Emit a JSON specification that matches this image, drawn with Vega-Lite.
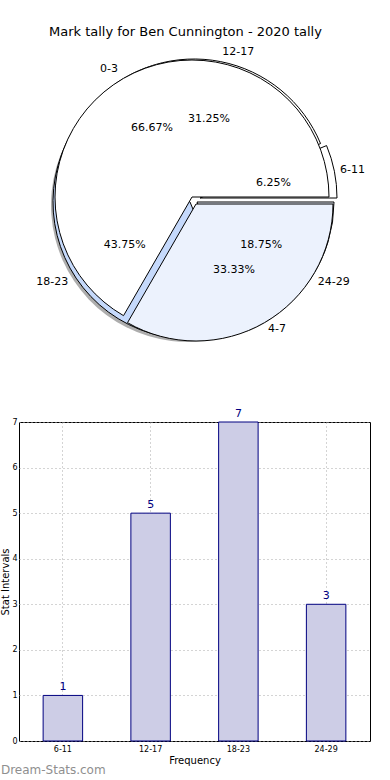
{
  "$schema": "https://vega.github.io/schema/vega-lite/v6.json",
  "background": "white",
  "padding": {"left": 0, "right": 0, "top": 25, "bottom": 0},
  "config": {"font": "DejaVu Sans", "view": {"stroke": null}},
  "title": {"text": "Mark tally for Ben Cunnington - 2020 tally", "fontSize": 13, "fontWeight": "normal", "color": "black", "anchor": "middle", "offset": 7},
  "spacing": 56,
  "vconcat": [
    {
      "width": 348,
      "height": 304,
      "data": {"values": [
        {"pie": "A", "idx": 1, "label": "0-3", "share": 0.6667},
        {"pie": "A", "idx": 2, "label": "4-7", "share": 0.3333},
        {"pie": "B", "idx": 1, "label": "6-11", "share": 0.0625},
        {"pie": "B", "idx": 2, "label": "12-17", "share": 0.3125},
        {"pie": "B", "idx": 3, "label": "18-23", "share": 0.4375},
        {"pie": "B", "idx": 4, "label": "24-29", "share": 0.1875}
      ]},
      "transform": [
        {"stack": "share", "groupby": ["pie"], "sort": [{"field": "idx"}], "as": ["start", "end"]}
      ],
      "encoding": {
        "theta": {"field": "start", "type": "quantitative", "scale": {"domain": [0, 1], "range": [1.5707963, -4.712389]}},
        "theta2": {"field": "end"},
        "color": {"field": "label", "type": "nominal", "legend": null,
          "scale": {"domain": ["0-3", "4-7", "6-11", "12-17", "18-23", "24-29"],
                    "range": ["#ffffff", "#ecf2fd", "#ffffff", "#ffffff", "#c5d9fb", "#ecf2fd"]}}
      },
      "layer": [
        {"transform": [{"filter": "datum.label == '18-23'"}],
         "mark": {"type": "arc", "outerRadius": 137, "fill": "#777777", "opacity": 0.6, "xOffset": -5, "yOffset": 6}},
        {"transform": [{"filter": "datum.label == '24-29'"}],
         "mark": {"type": "arc", "outerRadius": 137, "fill": "#777777", "opacity": 0.6, "xOffset": 2, "yOffset": 6}},
        {"transform": [{"filter": "datum.label == '6-11'"}],
         "mark": {"type": "arc", "outerRadius": 137, "stroke": "black", "strokeWidth": 1, "xOffset": 7, "yOffset": -1}},
        {"transform": [{"filter": "datum.label == '12-17'"}],
         "mark": {"type": "arc", "outerRadius": 137, "stroke": "black", "strokeWidth": 1, "xOffset": 1, "yOffset": -3}},
        {"transform": [{"filter": "datum.label == '18-23'"}],
         "mark": {"type": "arc", "outerRadius": 137, "stroke": "black", "strokeWidth": 1, "xOffset": -3, "yOffset": 3}},
        {"transform": [{"filter": "datum.label == '24-29'"}],
         "mark": {"type": "arc", "outerRadius": 137, "stroke": "black", "strokeWidth": 1, "xOffset": 4, "yOffset": 3}},
        {"transform": [{"filter": "datum.label == '0-3'"}],
         "mark": {"type": "arc", "outerRadius": 137, "stroke": "black", "strokeWidth": 1, "xOffset": -1, "yOffset": -2}},
        {"transform": [{"filter": "datum.label == '4-7'"}],
         "mark": {"type": "arc", "outerRadius": 137, "stroke": "black", "strokeWidth": 1, "xOffset": 3, "yOffset": 5}},
        {"transform": [{"filter": "datum.pie == 'A'"}],
         "mark": {"type": "text", "radius": 150, "fontSize": 11, "color": "black", "baseline": "middle",
                  "align": {"expr": "datum.label == '0-3' || datum.label == '18-23' ? 'right' : 'left'"}},
         "encoding": {
           "theta": {"field": "share", "type": "quantitative", "stack": true, "scale": {"domain": [0, 1], "range": [1.5707963, -4.712389]}},
           "theta2": null,
           "order": {"field": "idx", "type": "quantitative"},
           "color": null,
           "text": {"field": "label"}}},
        {"transform": [{"filter": "datum.pie == 'A'"}],
         "mark": {"type": "text", "radius": 82, "fontSize": 11, "color": "black", "baseline": "middle", "align": "center"},
         "encoding": {
           "theta": {"field": "share", "type": "quantitative", "stack": true, "scale": {"domain": [0, 1], "range": [1.5707963, -4.712389]}},
           "theta2": null,
           "order": {"field": "idx", "type": "quantitative"},
           "color": null,
           "text": {"field": "share", "format": ".2%"}}},
        {"transform": [{"filter": "datum.pie == 'B'"}],
         "mark": {"type": "text", "radius": 150, "fontSize": 11, "color": "black", "baseline": "middle",
                  "align": {"expr": "datum.label == '0-3' || datum.label == '18-23' ? 'right' : 'left'"}},
         "encoding": {
           "theta": {"field": "share", "type": "quantitative", "stack": true, "scale": {"domain": [0, 1], "range": [1.5707963, -4.712389]}},
           "theta2": null,
           "order": {"field": "idx", "type": "quantitative"},
           "color": null,
           "text": {"field": "label"}}},
        {"transform": [{"filter": "datum.pie == 'B'"}],
         "mark": {"type": "text", "radius": 82, "fontSize": 11, "color": "black", "baseline": "middle", "align": "center"},
         "encoding": {
           "theta": {"field": "share", "type": "quantitative", "stack": true, "scale": {"domain": [0, 1], "range": [1.5707963, -4.712389]}},
           "theta2": null,
           "order": {"field": "idx", "type": "quantitative"},
           "color": null,
           "text": {"field": "share", "format": ".2%"}}}
      ]
    },
    {
      "width": 351,
      "height": 319,
      "view": {"stroke": "black", "strokeWidth": 1},
      "title": {"text": "Dream-Stats.com", "orient": "bottom", "anchor": "start", "frame": "bounds", "fontSize": 12, "fontWeight": "normal", "color": "#8f8f8f", "offset": 0},
      "data": {"values": [
        {"bin": "6-11", "count": 1},
        {"bin": "12-17", "count": 5},
        {"bin": "18-23", "count": 7},
        {"bin": "24-29", "count": 3}
      ]},
      "encoding": {
        "x": {"field": "bin", "type": "nominal", "sort": null,
              "scale": {"paddingInner": 0.55, "paddingOuter": 0.275},
              "axis": {"title": "Frequency", "labelAngle": 0, "labelFontSize": 8, "labelColor": "black", "titleFontSize": 10, "titleFontWeight": "normal", "titleColor": "black",
                       "grid": true, "gridDash": [1, 3], "gridColor": "#a8a8a8", "bandPosition": 0.5, "ticks": false, "labelPadding": 4, "domain": false, "titlePadding": 2}},
        "y": {"field": "count", "type": "quantitative", "scale": {"domain": [0, 7], "nice": false},
              "axis": {"title": "Stat Intervals", "values": [0, 1, 2, 3, 4, 5, 6, 7], "labelFontSize": 8, "labelColor": "black", "titleFontSize": 10, "titleFontWeight": "normal", "titleColor": "black",
                       "grid": true, "gridDash": [1, 3], "gridColor": "#a8a8a8", "ticks": false, "labelPadding": 2, "domain": false, "titlePadding": 1}}
      },
      "layer": [
        {"mark": {"type": "bar", "fill": "#cdcde6", "stroke": "#000080", "strokeWidth": 1}},
        {"mark": {"type": "text", "dy": -3, "baseline": "bottom", "color": "#000080", "fontSize": 11}, "encoding": {"text": {"field": "count"}}}
      ]
    }
  ]
}
